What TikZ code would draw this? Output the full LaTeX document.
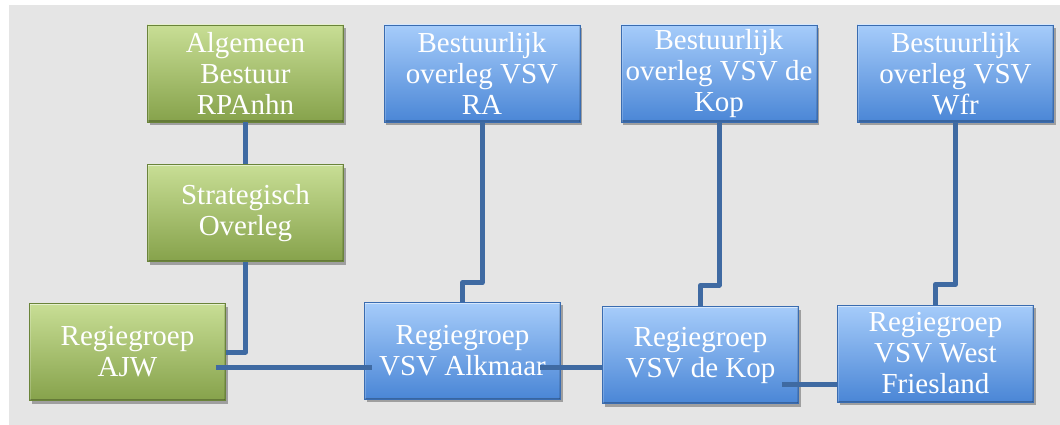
\documentclass[tikz,border=0pt]{standalone}
\usepackage{fontspec}
\setmainfont{Liberation Serif}
\usetikzlibrary{shadows}
\definecolor{bg}{HTML}{E5E5E5}
\definecolor{gtop}{HTML}{C8DE95}
\definecolor{gmid}{HTML}{A9C66A}
\definecolor{gbot}{HTML}{86A24B}
\definecolor{gedge}{HTML}{6A843A}
\definecolor{btop}{HTML}{A6CCFA}
\definecolor{bmid}{HTML}{78ADF0}
\definecolor{bbot}{HTML}{4A86D6}
\definecolor{bedge}{HTML}{3A6CB0}
\definecolor{conn}{HTML}{3F6AA2}
\tikzset{
  orgbox/.style={minimum width=196pt, minimum height=97pt, inner sep=0pt,
    text=white, align=center, font=\fontsize{29}{31}\selectfont,
    drop shadow={shadow xshift=2pt, shadow yshift=-3pt, opacity=0.3, fill=black},
    line width=0.6pt,
    path picture={
      \draw[white, opacity=0.55, line width=3pt]
        (path picture bounding box.north west) -- (path picture bounding box.north east);
      \draw[black, opacity=0.25, line width=3pt]
        (path picture bounding box.south west) -- (path picture bounding box.south east);
      \draw[black, opacity=0.12, line width=3pt]
        (path picture bounding box.north east) -- (path picture bounding box.south east);
      \draw[white, opacity=0.2, line width=3pt]
        (path picture bounding box.north west) -- (path picture bounding box.south west);
    }},
  greenbox/.style={orgbox, top color=gtop, middle color=gmid, bottom color=gbot, draw=gedge},
  bluebox/.style={orgbox, top color=btop, middle color=bmid, bottom color=bbot, draw=bedge},
  link/.style={draw=conn, line width=5pt, line join=round}
}
\begin{document}
\begin{tikzpicture}[x=1pt, y=1pt]
\useasboundingbox (0,0) rectangle (1060,-425);
\fill[bg] (9,-5) rectangle (1060,-425);

\node[greenbox] (alg) at (245.5,-73.5) {Algemeen\\Bestuur\\RPAnhn};
\node[greenbox] (strat) at (245.5,-213) {Strategisch\\Overleg};
\node[greenbox] (ajw) at (127.5,-352) {Regiegroep\\AJW};

\node[bluebox] (ra) at (482,-73.5) {Bestuurlijk\\overleg VSV\\RA};
\node[bluebox] (kt) at (719,-73.5) {Bestuurlijk\\overleg VSV de\\Kop};
\node[bluebox] (wt) at (955.5,-73.5) {Bestuurlijk\\overleg VSV\\Wfr};

\node[bluebox] (alk) at (462.5,-350.5) {Regiegroep\\VSV Alkmaar};
\node[bluebox] (kop) at (700.5,-355) {Regiegroep\\VSV de Kop};
\node[bluebox] (wf) at (935.5,-353.5) {Regiegroep\\VSV West\\Friesland};

\draw[link] (alg.south) -- (strat.north);
\draw[link] (strat.south) |- (ajw.east);
\draw[link] ([xshift=-10pt,yshift=-15pt]ajw.east) -- ([xshift=8pt,yshift=-16.5pt]alk.west);
\draw[link] ([xshift=-21pt,yshift=-16.5pt]alk.east) -- ([yshift=-12pt]kop.west);
\draw[link] ([xshift=-17pt,yshift=-29pt]kop.east) -- ([yshift=-30.5pt]wf.west);
\draw[link] (ra.south) -- ++(0,-160.5) -| (alk.north);
\draw[link] (kt.south) -- ++(0,-163) -| (kop.north);
\draw[link] (wt.south) -- ++(0,-162) -| (wf.north);
\end{tikzpicture}
\end{document}
